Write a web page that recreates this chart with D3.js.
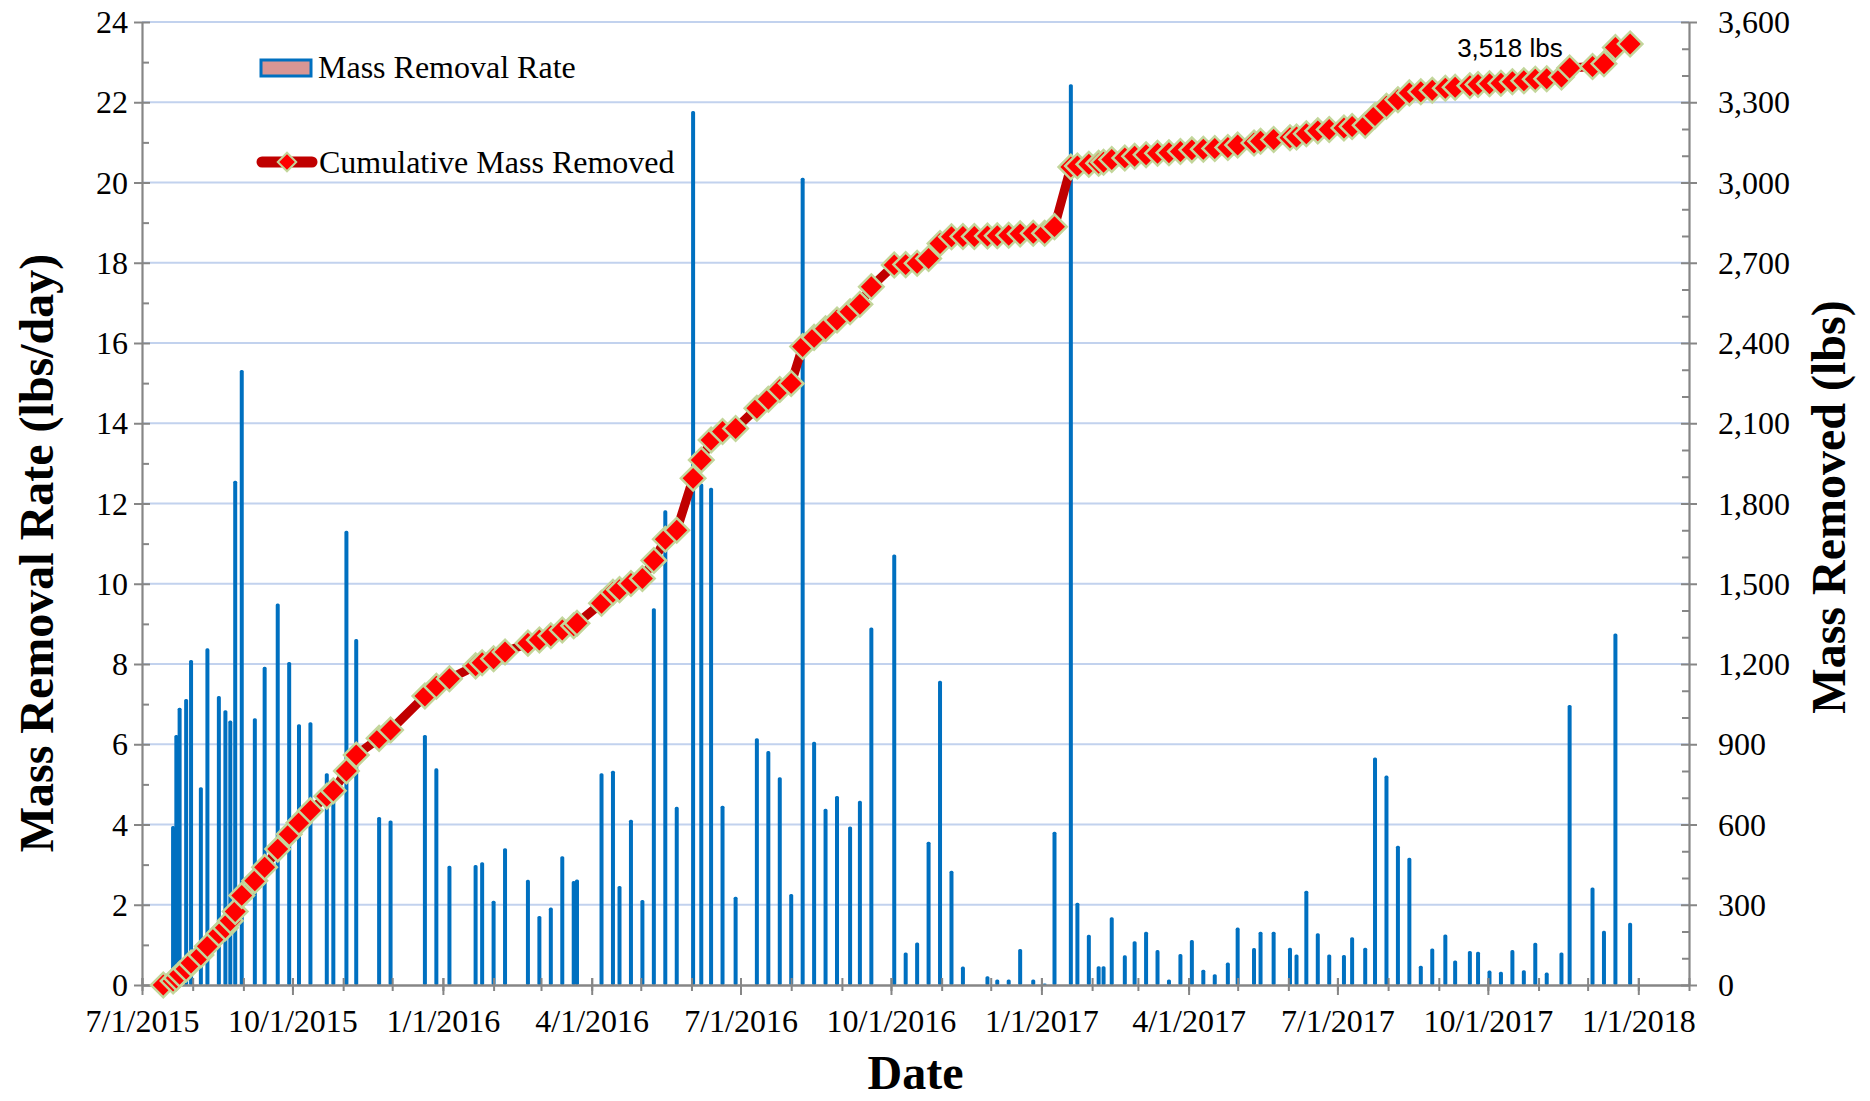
<!DOCTYPE html>
<html>
<head>
<meta charset="utf-8">
<script src="https://cdn.jsdelivr.net/npm/d3@7"></script>
<style>
	html,
	body {
		margin: 0;
		background: #fff;
	}
	svg {
		display: block;
		font-family: 'Liberation Serif', 'Times New Roman', serif;
	}
</style>
</head>
<body>
<svg id="chart" width="1870" height="1101"></svg>
<script>
// sample dates (first one is the start, no rate bar)
const sampleDates = [
	'2015-07-14', '2015-07-20', '2015-07-22', '2015-07-24', '2015-07-28', '2015-07-31', '2015-08-06', '2015-08-10',
	'2015-08-17', '2015-08-21', '2015-08-24', '2015-08-27', '2015-08-31', '2015-09-08', '2015-09-14', '2015-09-22',
	'2015-09-29', '2015-10-05', '2015-10-12', '2015-10-22', '2015-10-26', '2015-11-03', '2015-11-09', '2015-11-23',
	'2015-11-30', '2015-12-21', '2015-12-28', '2016-01-05', '2016-01-21', '2016-01-25', '2016-02-01', '2016-02-08',
	'2016-02-22', '2016-02-29', '2016-03-07', '2016-03-14', '2016-03-21', '2016-03-23', '2016-04-07', '2016-04-14',
	'2016-04-18', '2016-04-25', '2016-05-02', '2016-05-09', '2016-05-16', '2016-05-23', '2016-06-02', '2016-06-07',
	'2016-06-13', '2016-06-20', '2016-06-28', '2016-07-11', '2016-07-18', '2016-07-25', '2016-08-01', '2016-08-08',
	'2016-08-15', '2016-08-22', '2016-08-29', '2016-09-06', '2016-09-12', '2016-09-19', '2016-10-03', '2016-10-10',
	'2016-10-17', '2016-10-24', '2016-10-31', '2016-11-07', '2016-11-14', '2016-11-21', '2016-11-29', '2016-12-05',
	'2016-12-12', '2016-12-19', '2016-12-27', '2017-01-03', '2017-01-09', '2017-01-19', '2017-01-23', '2017-01-30',
	'2017-02-05', '2017-02-08', '2017-02-13', '2017-02-21', '2017-02-27', '2017-03-06', '2017-03-13', '2017-03-20',
	'2017-03-27', '2017-04-03', '2017-04-10', '2017-04-17', '2017-04-25', '2017-05-01', '2017-05-11', '2017-05-15',
	'2017-05-23', '2017-06-02', '2017-06-06', '2017-06-12', '2017-06-19', '2017-06-26', '2017-07-05', '2017-07-10',
	'2017-07-18', '2017-07-24', '2017-07-31', '2017-08-07', '2017-08-14', '2017-08-21', '2017-08-28', '2017-09-05',
	'2017-09-11', '2017-09-20', '2017-09-25', '2017-10-02', '2017-10-09', '2017-10-16', '2017-10-23', '2017-10-30',
	'2017-11-06', '2017-11-15', '2017-11-20', '2017-12-04', '2017-12-11', '2017-12-18', '2017-12-27',
]

// lbs/day
const removalRate = [
	null, 3.96, 6.23, 6.91, 7.13, 8.1, 4.93, 8.39,
	7.2, 6.85, 6.59, 12.57, 15.33, 6.65, 7.93, 9.51,
	8.05, 6.5, 6.55, 5.28, 4.9, 11.32, 8.62, 4.19,
	4.1, 6.23, 5.4, 2.97, 2.99, 3.06, 2.1, 3.41,
	2.62, 1.72, 1.93, 3.21, 2.59, 2.63, 5.28, 5.34,
	2.47, 4.12, 2.12, 9.39, 11.83, 4.44, 21.78, 12.5,
	12.39, 4.47, 2.2, 6.15, 5.83, 5.18, 2.27, 20.12,
	6.06, 4.39, 4.71, 3.95, 4.59, 8.91, 10.73, 0.81,
	1.06, 3.57, 7.58, 2.85, 0.46, 0, 0.22, 0.14,
	0.14, 0.9, 0.14, 0.04, 3.82, 22.45, 2.05, 1.25,
	0.47, 0.47, 1.69, 0.74, 1.09, 1.33, 0.87, 0.14,
	0.77, 1.12, 0.38, 0.27, 0.56, 1.43, 0.92, 1.33,
	1.33, 0.93, 0.76, 2.35, 1.29, 0.76, 0.75, 1.19,
	0.93, 5.67, 5.22, 3.47, 3.17, 0.48, 0.91, 1.26,
	0.61, 0.85, 0.83, 0.36, 0.33, 0.87, 0.37, 1.05,
	0.31, 0.81, 6.98, 2.43, 1.35, 8.76, 1.55,
]

// lbs
const cumulativeMass = [
	0, 15, 26, 40, 60, 82, 112, 145,
	192, 214, 240, 275, 335, 390, 440, 508,
	564, 607, 652, 706, 726, 800, 860, 922,
	953, 1080, 1117, 1145, 1193, 1205, 1220, 1245,
	1278, 1290, 1306, 1327, 1343, 1352, 1427, 1468,
	1478, 1501, 1520, 1587, 1666, 1700, 1894, 1963,
	2037, 2069, 2080, 2156, 2190, 2226, 2249, 2387,
	2421, 2453, 2486, 2517, 2545, 2610, 2692, 2693,
	2698, 2716, 2772, 2797, 2798, 2798, 2800, 2801,
	2803, 2808, 2810, 2810, 2835, 3058, 3062, 3068,
	3072, 3076, 3086, 3092, 3098, 3104, 3109, 3111,
	3116, 3122, 3124, 3127, 3131, 3140, 3148, 3154,
	3161, 3167, 3170, 3182, 3193, 3198, 3204, 3209,
	3214, 3250, 3285, 3309, 3335, 3339, 3345, 3352,
	3356, 3362, 3366, 3369, 3371, 3377, 3380, 3386,
	3388, 3394, 3428, 3434, 3444, 3505, 3518,
]

const rateTicks = [0, 2, 4, 6, 8, 10, 12, 14, 16, 18, 20, 22, 24]
const massTicks = [0, 300, 600, 900, 1200, 1500, 1800, 2100, 2400, 2700, 3000, 3300, 3600]
const dateRange = ['2015-07-01', '2018-02-01']
const finalLabel = '3,518 lbs'

const parse = d3.timeParse('%Y-%m-%d')
const rows = sampleDates.map((d, i) => ({date: parse(d), rate: removalRate[i], mass: cumulativeMass[i]}))

const svg = d3.select('#chart')
const plotLeft = 142, plotRight = 1689, plotTop = 22, plotBottom = 985
const axisColor = '#868686'

const x = d3.scaleTime().domain(dateRange.map(parse)).range([plotLeft, plotRight])
const yRate = d3.scaleLinear().domain([0, 24]).range([plotBottom, plotTop])
const yMass = d3.scaleLinear().domain([0, 3600]).range([plotBottom, plotTop])

// gridlines
svg.append('g')
	.selectAll('line')
	.data(rateTicks.filter(t => t > 0))
	.join('line')
	.attr('x1', plotLeft)
	.attr('x2', plotRight)
	.attr('y1', d => yRate(d))
	.attr('y2', d => yRate(d))
	.attr('stroke', '#c2d2ee')
	.attr('stroke-width', 2)

// bars
svg.append('g')
	.selectAll('rect')
	.data(rows.filter(d => d.rate > 0))
	.join('rect')
	.attr('x', d => x(d.date) - 2)
	.attr('width', 4)
	.attr('y', d => yRate(d.rate))
	.attr('height', d => plotBottom - yRate(d.rate))
	.attr('rx', 1.6)
	.attr('fill', '#0070c0')

function styleAxis(g, size) {
	g.selectAll('.domain').attr('stroke', axisColor).attr('stroke-width', 2.2)
	g.selectAll('.tick line').attr('stroke', axisColor).attr('stroke-width', 2)
	g.selectAll('text').attr('font-size', size).attr('fill', '#000').attr('font-family', 'Liberation Serif')
}

// left axis
const leftMinor = svg.append('g').attr('transform', `translate(${plotLeft},0)`)
	.call(d3.axisLeft(yRate).tickValues(d3.range(1, 24, 2)).tickSize(-7).tickFormat(''))
leftMinor.select('.domain').remove()
const leftAxis = svg.append('g').attr('transform', `translate(${plotLeft},0)`)
	.call(d3.axisLeft(yRate).tickValues(rateTicks).tickSize(8).tickSizeOuter(0).tickPadding(6))
leftAxis.selectAll('.tick line').attr('x1', 8)
styleAxis(leftMinor, 32)
styleAxis(leftAxis, 32)
leftAxis.selectAll('text').attr('dy', '0.33em')

// right axis
const rightMinor = svg.append('g').attr('transform', `translate(${plotRight},0)`)
	.call(d3.axisRight(yMass).tickValues(d3.range(100, 3600, 100).filter(v => v % 300)).tickSize(-7).tickFormat(''))
rightMinor.select('.domain').remove()
const rightAxis = svg.append('g').attr('transform', `translate(${plotRight},0)`)
	.call(d3.axisRight(yMass).tickValues(massTicks).tickSize(8).tickSizeOuter(0).tickPadding(21).tickFormat(d3.format(',')))
rightAxis.selectAll('.tick line').attr('x1', -8)
styleAxis(rightMinor, 32)
styleAxis(rightAxis, 32)
rightAxis.selectAll('text').attr('dy', '0.33em')

// bottom axis
const bottomMinor = svg.append('g').attr('transform', `translate(0,${plotBottom})`)
	.call(d3.axisBottom(x).ticks(d3.timeMonth.every(1)).tickSize(6).tickFormat(''))
bottomMinor.select('.domain').remove()
bottomMinor.selectAll('.tick line').attr('y1', -7)
const bottomAxis = svg.append('g').attr('transform', `translate(0,${plotBottom})`)
	.call(d3.axisBottom(x).ticks(d3.timeMonth.every(3)).tickSize(10).tickSizeOuter(0).tickPadding(14)
		.tickFormat(d3.timeFormat('%-m/%-d/%Y')))
bottomAxis.selectAll('.tick line').attr('y1', -7)
styleAxis(bottomMinor, 32)
styleAxis(bottomAxis, 32)
bottomAxis.select('.domain').attr('stroke-width', 2.6)

// cumulative line and markers
const line = d3.line().x(d => x(d.date)).y(d => yMass(d.mass))
svg.append('path')
	.datum(rows)
	.attr('d', line)
	.attr('fill', 'none')
	.attr('stroke', '#c00000')
	.attr('stroke-width', 9)
	.attr('stroke-linejoin', 'round')

const diamond = d3.symbol(d3.symbolSquare, 300)
svg.append('g')
	.selectAll('path')
	.data(rows)
	.join('path')
	.attr('d', diamond)
	.attr('transform', d => `translate(${x(d.date)},${yMass(d.mass)}) rotate(45)`)
	.attr('fill', '#ff0000')
	.attr('stroke', '#c3d69b')
	.attr('stroke-width', 2.5)

// end label
const last = rows[rows.length - 1]
svg.append('text')
	.attr('x', x(last.date) - 173)
	.attr('y', 57)
	.attr('font-family', "'Liberation Sans', Arial, sans-serif")
	.attr('font-size', 26)
	.text(finalLabel)

// legend
const legend = svg.append('g')
legend.append('rect')
	.attr('x', 261).attr('y', 60).attr('width', 50).attr('height', 16)
	.attr('fill', '#d99694').attr('stroke', '#0070c0').attr('stroke-width', 3)
legend.append('text').attr('x', 318).attr('y', 78).attr('font-size', 32).text('Mass Removal Rate')
legend.append('line')
	.attr('x1', 262).attr('x2', 312).attr('y1', 162).attr('y2', 162)
	.attr('stroke', '#c00000').attr('stroke-width', 11).attr('stroke-linecap', 'round')
legend.append('path')
	.attr('d', d3.symbol(d3.symbolSquare, 170))
	.attr('transform', 'translate(287,162) rotate(45)')
	.attr('fill', '#ff0000').attr('stroke', '#c3d69b').attr('stroke-width', 2)
legend.append('text').attr('x', 319).attr('y', 173).attr('font-size', 32).text('Cumulative Mass Removed')

// axis titles
svg.append('text')
	.attr('transform', 'translate(53,553) rotate(-90)')
	.attr('text-anchor', 'middle')
	.attr('font-size', 48)
	.attr('font-weight', 'bold')
	.text('Mass Removal Rate (lbs/day)')
svg.append('text')
	.attr('transform', 'translate(1845,507) rotate(-90)')
	.attr('text-anchor', 'middle')
	.attr('font-size', 48)
	.attr('font-weight', 'bold')
	.text('Mass Removed (lbs)')
svg.append('text')
	.attr('x', (plotLeft + plotRight) / 2)
	.attr('y', 1089)
	.attr('text-anchor', 'middle')
	.attr('font-size', 48)
	.attr('font-weight', 'bold')
	.text('Date')
</script>
</body>
</html>
